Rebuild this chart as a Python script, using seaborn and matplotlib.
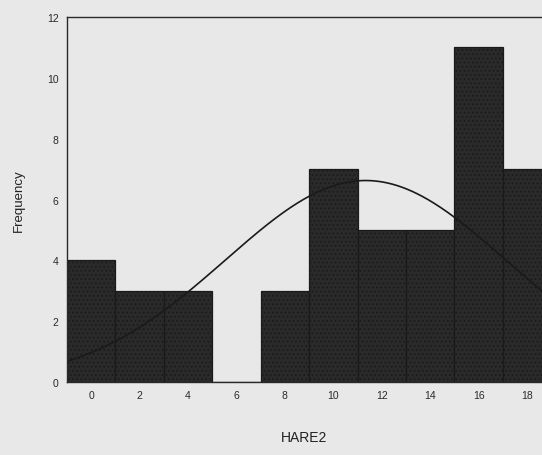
import numpy as np
import pandas as pd
import matplotlib
matplotlib.use("Agg")
import matplotlib.pyplot as plt
import seaborn as sns

# HARE2 score bins (centres) and their frequencies
bin_centers = [0, 2, 4, 6, 8, 10, 12, 14, 16, 18]
frequencies = [4, 3, 3, 0, 3, 7, 5, 5, 11, 7]
x_ticks = [0, 2, 4, 6, 8, 10, 12, 14, 16, 18]
y_ticks = [0, 2, 4, 6, 8, 10, 12]

BIN_WIDTH = 2
bin_lo = bin_centers[0] - BIN_WIDTH / 2
bin_hi = bin_centers[-1] + BIN_WIDTH / 2

df = pd.DataFrame({"HARE2": bin_centers, "freq": frequencies})

sns.set_theme(style="white")
plt.rcParams["font.family"] = ["Liberation Sans", "DejaVu Sans"]
plt.rcParams["hatch.color"] = "#707070"
plt.rcParams["hatch.linewidth"] = 0.7

bg = "#e8e8e8"
fig = plt.figure(figsize=(5.42, 4.56), dpi=100, facecolor=bg)
ax = fig.add_axes([0.1236, 0.160, 0.8764, 0.8005], facecolor=bg)

sns.histplot(data=df, x="HARE2", weights="freq", binwidth=BIN_WIDTH,
             binrange=(bin_lo, bin_hi), ax=ax,
             color="#2a2a2a", alpha=1.0, edgecolor="#1a1a1a", linewidth=0.9)
for patch in ax.patches:
    patch.set_hatch("....")

# Normal curve fitted to the binned scores
counts = np.array(frequencies, dtype=float)
centers = np.array(bin_centers, dtype=float)
n = counts.sum()
mean = (centers * counts).sum() / n
sd = np.sqrt(((centers - mean) ** 2 * counts).sum() / (n - 1))
xs = np.linspace(bin_lo, bin_hi, 300)
ys = n * BIN_WIDTH * np.exp(-0.5 * ((xs - mean) / sd) ** 2) / (sd * np.sqrt(2 * np.pi))
sns.lineplot(x=xs, y=ys, ax=ax, color="#1a1a1a", linewidth=1.2)

ax.set_xlim(-1, 18.62)
ax.set_ylim(0, 12)
ax.set_xticks(x_ticks)
ax.set_yticks(y_ticks)
ax.tick_params(axis="both", labelsize=7.5, colors="#333333", length=3, width=0.8,
               direction="out", pad=3)
for lab in ax.get_xticklabels() + ax.get_yticklabels():
    lab.set_color("#2a2a2a")

ax.spines["right"].set_visible(False)
for side in ("left", "top", "bottom"):
    ax.spines[side].set_color("#2a2a2a")
    ax.spines[side].set_linewidth(1.0)

ax.set_xlabel("HARE2", fontsize=10, color="#222222", labelpad=21)
ax.set_ylabel("Frequency", fontsize=9.5, color="#222222", labelpad=16)

fig.savefig("out.png", dpi=100, facecolor=bg)
